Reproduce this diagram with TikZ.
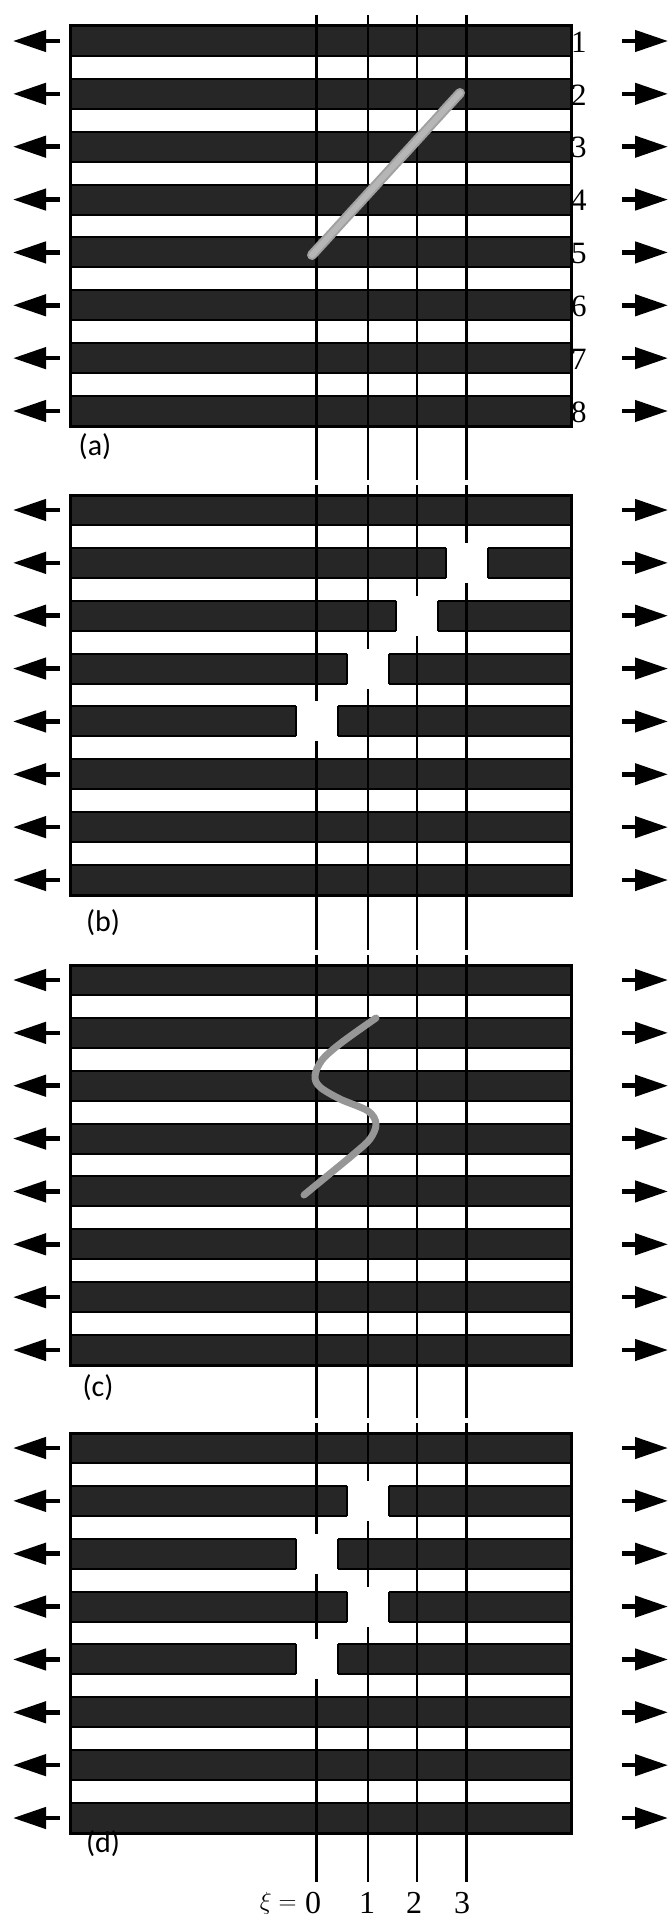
\documentclass[tikz,border=0pt]{standalone}
\usepackage{fontspec}
\setmainfont{Liberation Serif}
\newfontfamily\lblfont{Carlito}
\usetikzlibrary{arrows.meta}
\definecolor{stripe}{RGB}{38,38,38}
\definecolor{disloc}{RGB}{182,182,182}
\definecolor{dislocedge}{RGB}{160,160,160}
\definecolor{sline}{RGB}{150,150,150}
\tikzset{
  darkbar/.style={fill=stripe, draw=black, line width=2pt},
  frame/.style={draw=black, line width=3pt},
  guide/.style={draw=black, line width=2.6pt},
  gapbox/.style={fill=white, draw=none},
  gapedge/.style={draw=black, line width=2pt},
  stressarrow/.style={-{Triangle[length=33pt,width=21pt]}, line width=4.5pt},
  numlabel/.style={anchor=west, inner sep=0pt, font=\fontsize{31}{31}\selectfont},
  panellabel/.style={inner sep=0pt, font=\lblfont\fontsize{30}{30}\selectfont},
  xilabel/.style={inner sep=0pt, font=\fontsize{32}{32}\selectfont},
}
\begin{document}
\begin{tikzpicture}[x=1pt,y=-1pt]
\useasboundingbox (0,0) rectangle (669,1919);
\def\P{52.857}
% panels with stripes and stress arrows
\foreach \T/\nm in {26/a,495/b,965/c,1433/d} {
  \fill[white] (70,\T) rectangle (571,\T+400);
  \foreach \k in {1,...,8} {
    \pgfmathsetmacro\yt{\T+(\k-1)*\P}
    \draw[darkbar] (70,\yt) rectangle (571,\yt+30);
    \coordinate (L\nm\k) at (60,\yt+15);
    \coordinate (Lt\nm\k) at (13,\yt+15);
    \coordinate (R\nm\k) at (622,\yt+15);
    \coordinate (Rt\nm\k) at (668,\yt+15);
    \draw[stressarrow] (L\nm\k) -- (Lt\nm\k);
    \draw[stressarrow] (R\nm\k) -- (Rt\nm\k);
  }
  \draw[frame] (70,\T) rectangle (571,\T+400);
}
% guide lines xi = 0..3
\foreach \x in {316.5,368,417,466.5} {
  \draw[guide] (\x,15) -- (\x,480);
  \draw[guide] (\x,485) -- (\x,950);
  \draw[guide] (\x,955) -- (\x,1418);
  \draw[guide] (\x,1423) -- (\x,1882);
}
% dislocation gaps (panel top / stripe index / line x)
\foreach \T/\k/\x in {495/2/466.5, 495/3/417, 495/4/368, 495/5/316.5,
                      1433/2/368, 1433/3/316.5, 1433/4/368, 1433/5/316.5} {
  \pgfmathsetmacro\yt{\T+(\k-1)*\P}
  \fill[gapbox] (\x-21,\yt-5) rectangle (\x+21,\yt+35);
  \draw[gapedge] (\x-21,\yt) -- (\x-21,\yt+30);
  \draw[gapedge] (\x+21,\yt) -- (\x+21,\yt+30);
}
% dislocation line in (a)
\draw[dislocedge, line width=10pt, line cap=round] (312,255) -- (460,93);
\draw[disloc, line width=6pt, line cap=round] (312,255) -- (460,93);
% S-shaped line in (c)
\draw[sline, line width=7pt, line cap=round] plot[smooth, tension=0.55] coordinates
  {(376,1018) (341,1043) (322,1060) (315,1076) (320,1087) (340,1099) (368,1111) (376,1124) (370,1139) (355,1153) (332,1172) (304,1195)};
% stripe numbers in (a)
\foreach \k in {1,...,8} {
  \pgfmathsetmacro\yc{26+(\k-1)*\P+16}
  \node[numlabel] (n\k) at (571,\yc) {\k};
}
% panel labels
\node[panellabel] (la) at (95,447) {(a)};
\node[panellabel] (lb) at (103,923) {(b)};
\node[panellabel] (lc) at (98,1388) {(c)};
\node[panellabel] (ld) at (103,1844) {(d)};
% xi labels
\node[xilabel] (x0) at (313,1903) {0};
\node[xilabel, anchor=east] (xi) at ([xshift=-8pt]x0.west) {$\xi =$};
\node[xilabel] (x1) at (367,1903) {1};
\node[xilabel] (x2) at (414,1903) {2};
\node[xilabel] (x3) at (462,1903) {3};
\end{tikzpicture}
\end{document}
